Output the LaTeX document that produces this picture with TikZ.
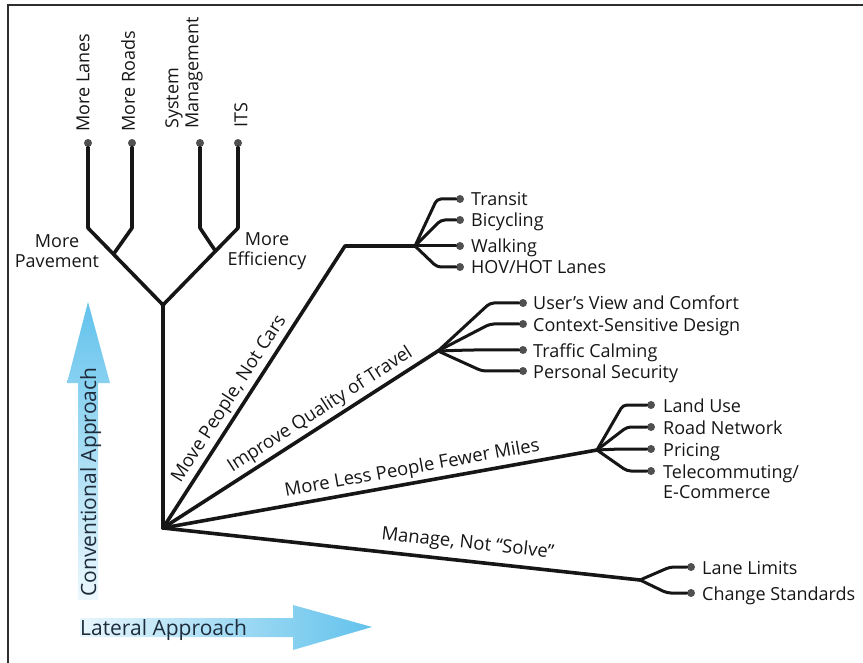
\documentclass[tikz,border=0pt]{standalone}
\usepackage{fontspec}
\setmainfont{Open Sans}
\usetikzlibrary{calc}
\definecolor{roadink}{HTML}{161616}
\definecolor{knobgrey}{HTML}{505050}
\definecolor{framegrey}{HTML}{2E2E2E}
\definecolor{arrowblue}{HTML}{62C2EC}
\definecolor{arrowtext}{HTML}{1E2B3A}

\begin{document}
\begin{tikzpicture}[
  x=1pt,
  y=-1pt,
  every node/.style={font=\fontsize{18}{20}\selectfont, roadink, inner sep=0pt},
  trunk/.style={roadink, line width=3.6pt, line cap=round, line join=round},
  twig/.style={roadink, line width=3pt, line cap=round, rounded corners=4pt},
  knob/.style={circle, fill=knobgrey, minimum size=8pt},
  leaf/.style={anchor=base west},
  slopelabel/.style={sloped, above=#1, font=\fontsize{18.5}{21}\selectfont},
  slopelabel/.default=3pt,
  approach/.style={font=\fontsize{21}{23}\selectfont, arrowtext}
]
  \useasboundingbox (0,0) rectangle (863,663);

  % ---- frame ------------------------------------------------------------
  \draw[framegrey, line width=2pt] (8,663) -- (8,5) -- (863,5);

  % ---- the two approach arrows -------------------------------------------
  \shade[top color=arrowblue, bottom color=arrowblue!12]
    (78,600) -- (78,383) -- (67,383) -- (88,302) -- (110,383) -- (98,383)
    -- (98,600) -- cycle;
  \shade[left color=arrowblue!15, right color=arrowblue]
    (80,618) -- (293,618) -- (293,605) -- (372,627) -- (293,650)
    -- (293,637) -- (80,637) -- cycle;
  \node[approach, rotate=90, anchor=base west] (convlbl) at (96,597)
    {Conventional Approach};
  \node[approach, anchor=base west] (latlbl) at (80,635) {Lateral Approach};

  % ---- conventional tree -------------------------------------------------
  \coordinate (root) at (163,528);
  \coordinate (fork) at (163,305);
  \coordinate (pave) at (88,228);
  \coordinate (effic) at (238,228);
  \coordinate (pavemid) at ($(fork)!0.66!(pave)$);
  \coordinate (roadsbend) at (132,228);
  \coordinate (efficmid) at ($(fork)!0.70!(effic)$);
  \coordinate (sysbend) at (200,228);
  \node[knob] (lanesknob) at (88,143) {};
  \node[knob] (roadsknob) at (132,143) {};
  \node[knob] (sysknob) at (200,143) {};
  \node[knob] (itsknob) at (238,143) {};

  \draw[trunk] (root) -- (fork);
  \draw[trunk] (lanesknob) -- (pave) -- (fork) -- (effic) -- (itsknob);
  \draw[trunk] (pavemid) -- (roadsbend) -- (roadsknob);
  \draw[trunk] (efficmid) -- (sysbend) -- (sysknob);

  \node[rotate=90, anchor=west] (laneslbl) at (83,132) {More Lanes};
  \node[rotate=90, anchor=west] (roadslbl) at (128,132) {More Roads};
  \node[rotate=90, anchor=west, align=left] (syslbl) at (184,129)
    {System\\Management};
  \node[rotate=90, anchor=west] (itslbl) at (241,128) {ITS};
  \node[align=center] (pavelbl) at (57,251) {More\\Pavement};
  \node[align=center] (efficlbl) at (267,251) {More\\Efficiency};

  % ---- lateral branches --------------------------------------------------
  \coordinate (movebend) at (345,246);
  \coordinate (movefan) at (415,246);
  \coordinate (qualfan) at (438,351);
  \coordinate (milesfan) at (597,450);
  \coordinate (managefan) at (640,580);

  \draw[trunk] (root) -- node[slopelabel, pos=0.43] (movelbl)
    {Move People, Not Cars} (movebend) -- (movefan);
  \draw[trunk] (root) -- node[slopelabel, pos=0.6] (quallbl)
    {Improve Quality of Travel} (qualfan);
  \draw[trunk] (root) -- node[slopelabel, pos=0.58] (mileslbl)
    {More Less People Fewer Miles} (milesfan);
  \draw[trunk] (root) -- node[slopelabel=6pt, pos=0.635] (managelbl)
    {Manage, Not “Solve”} (managefan);

  % move people
  \foreach \i/\ex/\ey/\txt in {1/437/199/Transit, 2/441/220/Bicycling,
      3/437/246/Walking, 4/437/267/{HOV/HOT Lanes}} {
    \node[knob] (moveknob\i) at (460,\ey) {};
    \coordinate (moveelb\i) at (\ex,\ey);
    \draw[twig] (movefan) -- (moveelb\i) -- (moveknob\i);
    \node[leaf] (moveleaf\i) at ([xshift=11pt,yshift=-7pt]moveknob\i.center)
      {\txt};
  }
  % quality of travel
  \foreach \i/\ex/\ey/\txt in {1/490/303/User’s View and Comfort,
      2/490/324/Context-Sensitive Design, 3/470/350/Traffic Calming,
      4/482/371/Personal Security} {
    \node[knob] (qualknob\i) at (523,\ey) {};
    \coordinate (qualelb\i) at (\ex,\ey);
    \draw[twig] (qualfan) -- (qualelb\i) -- (qualknob\i);
    \node[leaf] (qualleaf\i) at ([xshift=10pt,yshift=-7pt]qualknob\i.center)
      {\txt};
  }
  % fewer miles
  \foreach \i/\ex/\ey/\txt in {1/623/405/Land Use, 2/627/427/Road Network,
      3/620/449/Pricing} {
    \node[knob] (milesknob\i) at (651,\ey) {};
    \coordinate (mileselb\i) at (\ex,\ey);
    \draw[twig] (milesfan) -- (mileselb\i) -- (milesknob\i);
    \node[leaf] (milesleaf\i) at ([xshift=12pt,yshift=-7pt]milesknob\i.center)
      {\txt};
  }
  \node[knob] (milesknob4) at (651,471) {};
  \coordinate (mileselb4) at (627,471);
  \draw[twig] (milesfan) -- (mileselb4) -- (milesknob4);
  \node[anchor=north west, align=left] (milesleaf4)
    at ([xshift=12pt,yshift=6.5pt]milesknob4.center)
    {Telecommuting/\\E-Commerce};
  % manage
  \foreach \i/\ex/\ey/\txt in {1/670/567/Lane Limits,
      2/667/593/Change Standards} {
    \node[knob] (manageknob\i) at (691,\ey) {};
    \coordinate (manageelb\i) at (\ex,\ey);
    \draw[twig] (managefan) -- (manageelb\i) -- (manageknob\i);
    \node[leaf] (manageleaf\i) at ([xshift=11pt,yshift=-7pt]manageknob\i.center)
      {\txt};
  }
\end{tikzpicture}
\end{document}
